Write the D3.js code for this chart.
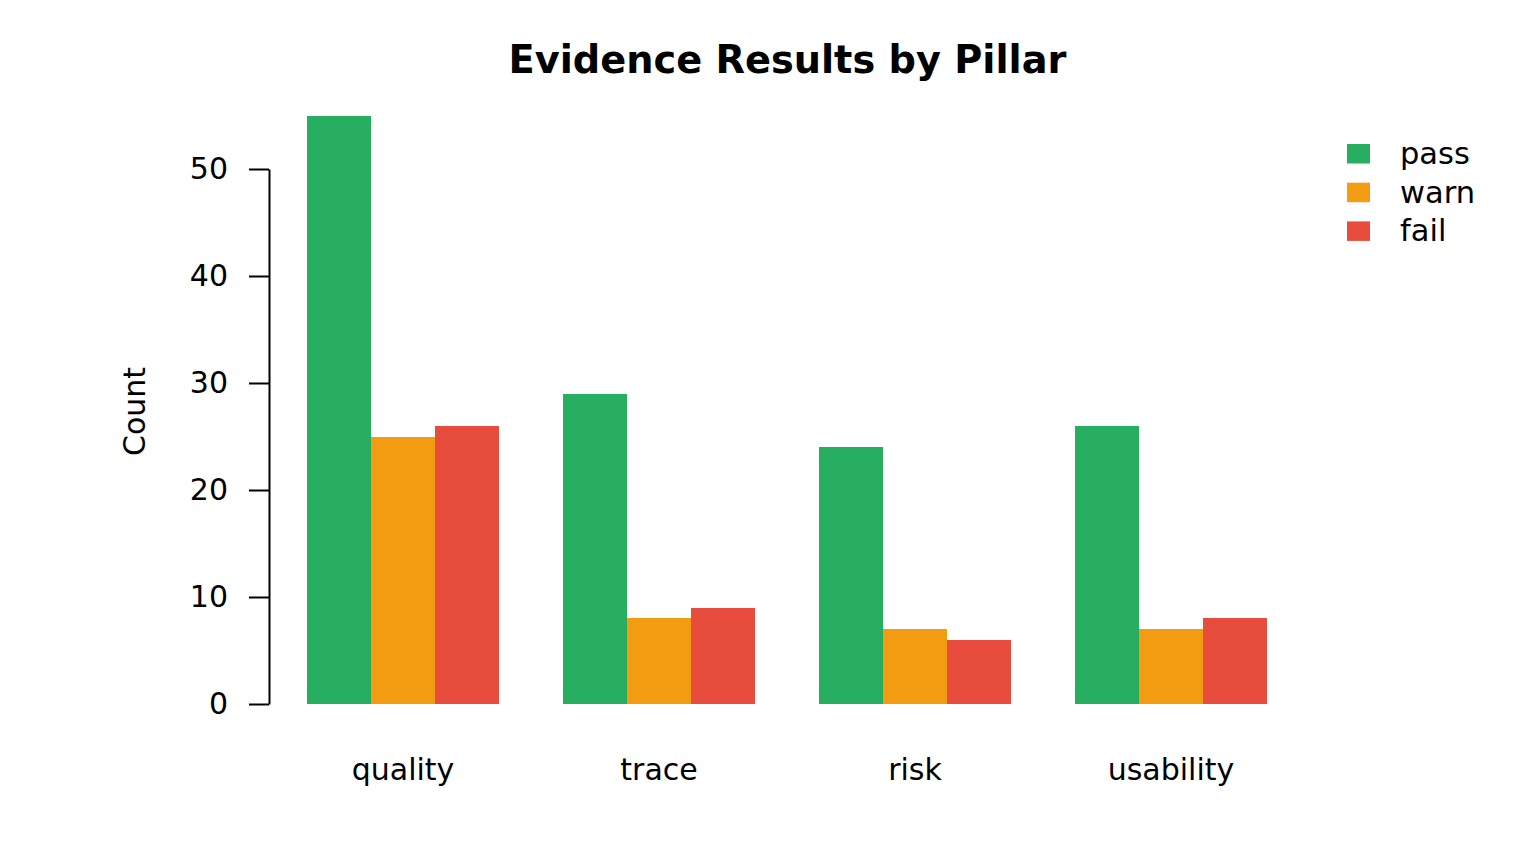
<!DOCTYPE html>
<html>
<head>
<meta charset="utf-8">
<script src="https://cdn.jsdelivr.net/npm/d3@7"></script>
<style>
html,body{margin:0;padding:0;background:#fff;}
svg{display:block;font-family:"DejaVu Sans",sans-serif;}
</style>
</head>
<body>
<svg id="chart" width="1536" height="864"></svg>
<script>
const categories = ["quality", "trace", "risk", "usability"];
const seriesNames = ["pass", "warn", "fail"];
const passValues = [55, 29, 24, 26];
const warnValues = [25, 8, 7, 7];
const failValues = [26, 9, 6, 8];
const seriesColors = ["#27AE60", "#F39C12", "#E74C3C"];
const yTicks = [0, 10, 20, 30, 40, 50];
const title = "Evidence Results by Pillar";
const yLabel = "Count";

const seriesValues = [passValues, warnValues, failValues];
const svg = d3.select("#chart");

const y = d3.scaleLinear().domain([0, 50]).range([704, 169]);
const x0 = d3.scaleBand().domain(categories).range([243, 1331]).paddingInner(0.25).paddingOuter(0.25);
const x1 = d3.scaleBand().domain(seriesNames).range([0, x0.bandwidth()]);
const color = d3.scaleOrdinal().domain(seriesNames).range(seriesColors);

// bars
const groups = svg.append("g").selectAll("g").data(categories).join("g")
  .attr("transform", d => `translate(${x0(d)},0)`);
groups.selectAll("rect")
  .data((d, i) => seriesNames.map((s, j) => ({s, v: seriesValues[j][i]})))
  .join("rect")
  .attr("x", d => x1(d.s))
  .attr("width", x1.bandwidth())
  .attr("y", d => y(d.v))
  .attr("height", d => y(0) - y(d.v))
  .attr("fill", d => color(d.s))
  .attr("shape-rendering", "crispEdges");

// y axis
const yAxis = d3.axisLeft(y).tickValues(yTicks).tickSize(20).tickPadding(21).tickSizeOuter(0);
const ga = svg.append("g").attr("transform", "translate(269,0)").call(yAxis);
ga.select(".domain").attr("stroke", "#000").attr("stroke-width", 2);
ga.selectAll(".tick line").attr("stroke", "#000").attr("stroke-width", 2);
ga.selectAll(".tick text").attr("font-size", 30).attr("font-family", "DejaVu Sans").attr("fill", "#000");

// x labels
const xAxis = d3.axisBottom(x0).tickSize(0).tickPadding(0);
const gx = svg.append("g").attr("transform", "translate(0,780)").call(xAxis);
gx.select(".domain").remove();
gx.selectAll(".tick text").attr("font-size", 30).attr("font-family", "DejaVu Sans").attr("fill", "#000").attr("dy", 0).attr("y", 0);

// title
svg.append("text").attr("x", 787.5).attr("y", 73).attr("text-anchor", "middle")
  .attr("font-size", 38.3).attr("font-weight", "bold").text(title);

// y label
svg.append("text").attr("transform", "translate(145,411.5) rotate(-90)").attr("text-anchor", "middle")
  .attr("font-size", 30).text(yLabel);

// legend
const lg = svg.append("g").selectAll("g").data(seriesNames).join("g")
  .attr("transform", (d, i) => `translate(1347,${144 + i * 38.7})`);
lg.append("rect").attr("width", 23).attr("height", 19.5).attr("fill", d => color(d));
lg.append("text").attr("x", 53).attr("y", 20).attr("font-size", 30.5).text(d => d);
</script>
</body>
</html>
